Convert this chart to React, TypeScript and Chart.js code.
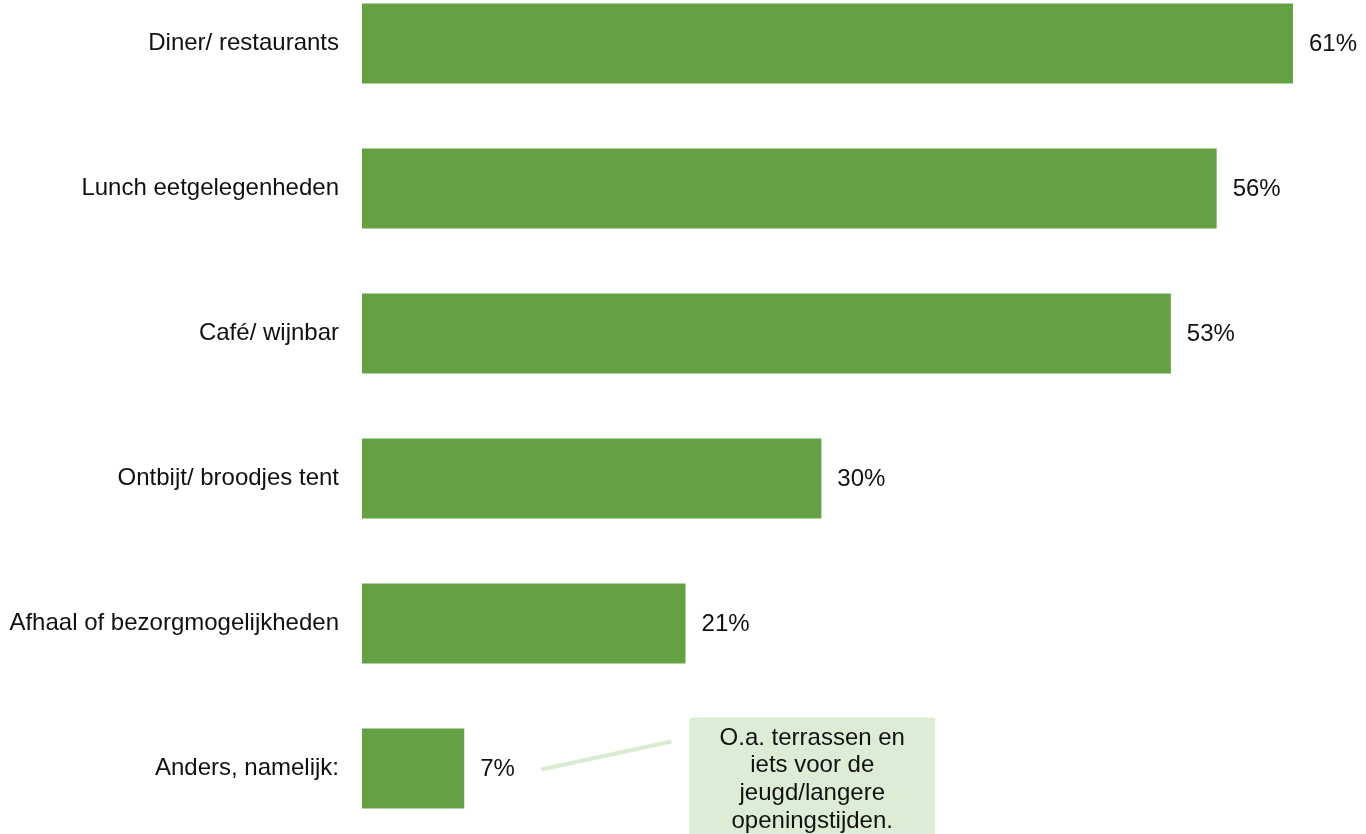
import React, { useEffect, useRef } from "react";
import { Chart, registerables } from "chart.js";

Chart.register(...registerables);

const categories = [
  "Diner/ restaurants",
  "Lunch eetgelegenheden",
  "Café/ wijnbar",
  "Ontbijt/ broodjes tent",
  "Afhaal of bezorgmogelijkheden",
  "Anders, namelijk:",
];
const values = [61, 56, 53, 30.1, 21.2, 6.7];
const valueLabels = ["61%", "56%", "53%", "30%", "21%", "7%"];
const noteLines = ["O.a. terrassen en", "iets voor de", "jeugd/langere", "openingstijden."];

const FONT = "'Liberation Sans', Arial, Helvetica, sans-serif";
const BAR_COLOR = "#64A143";
const NOTE_FILL = "#DDEDD5";
const NOTE_LINE = "#D8EACF";

const labelPlugin = {
  id: "valueLabels",
  afterDatasetsDraw(chart: any) {
    const ctx = chart.ctx;
    const meta = chart.getDatasetMeta(0);
    ctx.save();
    ctx.font = `24px ${FONT}`;
    ctx.fillStyle = "#111";
    ctx.textAlign = "left";
    ctx.textBaseline = "middle";
    meta.data.forEach((bar: any, i: number) => {
      ctx.fillText(valueLabels[i], bar.x + 16, bar.y + 1);
    });

    // callout for the last bar
    const last = meta.data[meta.data.length - 1];
    if (last) {
      const bx = last.x;
      const by = last.y;
      ctx.strokeStyle = NOTE_LINE;
      ctx.lineWidth = 4;
      ctx.beginPath();
      ctx.moveTo(bx + 77, by + 1);
      ctx.lineTo(bx + 207, by - 27);
      ctx.stroke();

      const boxX = bx + 225;
      const boxY = by - 51;
      const boxW = 246;
      const boxH = 140;
      ctx.fillStyle = NOTE_FILL;
      ctx.beginPath();
      (ctx as any).roundRect(boxX, boxY, boxW, boxH, 3);
      ctx.fill();

      ctx.fillStyle = "#111";
      ctx.textAlign = "center";
      ctx.textBaseline = "alphabetic";
      noteLines.forEach((t, i) => {
        ctx.fillText(t, boxX + boxW / 2, by - 24 + i * 27.7);
      });
    }
    ctx.restore();
  },
};

export default function App() {
  const ref = useRef<HTMLCanvasElement | null>(null);
  useEffect(() => {
    if (!ref.current) return;
    const chart = new Chart(ref.current, {
      type: "bar",
      data: {
        labels: categories,
        datasets: [
          {
            data: values,
            backgroundColor: BAR_COLOR,
            borderWidth: 0,
            barPercentage: 80 / 145,
            categoryPercentage: 1,
          },
        ],
      },
      options: {
        indexAxis: "y",
        animation: false,
        responsive: false,
        maintainAspectRatio: false,
        layout: { padding: { left: 0, right: 12, top: 0, bottom: 0 } },
        plugins: {
          legend: { display: false },
          tooltip: { enabled: false },
        },
        scales: {
          x: {
            display: false,
            min: 0,
            max: 65,
          },
          y: {
            grid: { display: false, drawTicks: false },
            border: { display: false },
            ticks: {
              padding: 23,
              color: "#111",
              font: { family: FONT, size: 24 },
            },
            afterFit(scale: any) {
              scale.width = 362;
              scale.paddingTop = 0;
              scale.paddingBottom = 0;
            },
          },
        },
      },
      plugins: [labelPlugin],
    });
    return () => chart.destroy();
  }, []);

  return (
    <div
      style={{
        position: "fixed",
        left: 0,
        top: 0,
        width: 1366,
        height: 834,
        overflow: "hidden",
        background: "#fff",
      }}
    >
      <canvas
        ref={ref}
        width={1366}
        height={870}
        style={{ position: "absolute", left: 0, top: -29, width: 1366, height: 870 }}
      />
    </div>
  );
}
